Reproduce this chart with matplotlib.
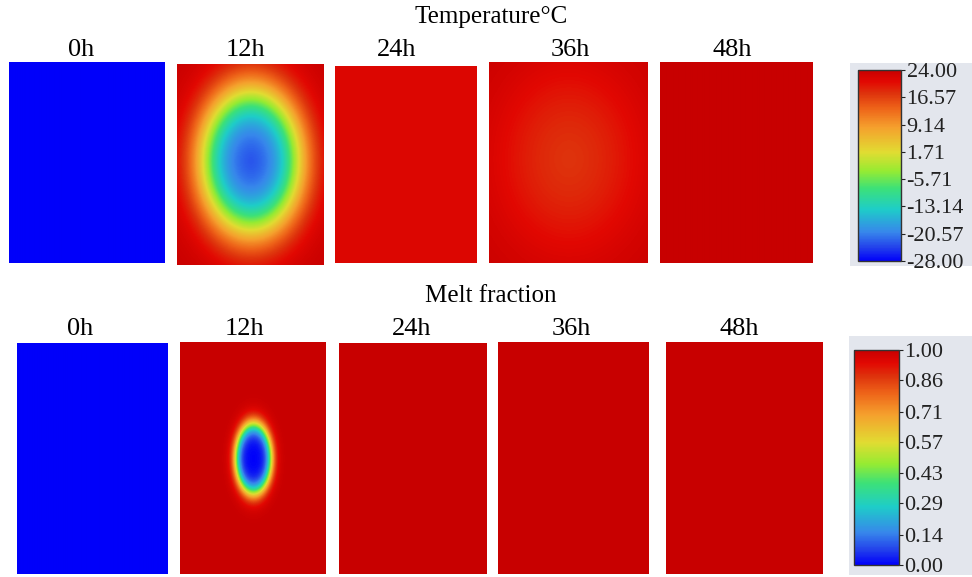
import numpy as np
import matplotlib
matplotlib.use('Agg')
import matplotlib.pyplot as plt
from matplotlib.colors import LinearSegmentedColormap
from matplotlib.patches import Rectangle

W, H = 972, 577

# panel labels and field parameters
times = ['0h', '12h', '24h', '36h', '48h']

# temperature, degC: value at the core and far from the core
temp_core = [-28.0, -24.0, 21.5, 17.0, 23.8]
temp_edge = [-28.0, 24.0, 21.5, 24.0, 23.8]
temp_rx = [1.0, 46.0, 1.0, 60.0, 1.0]       # core half-size (px, horizontal)
temp_aspect = [1.0, 1.45, 1.0, 1.3, 1.0]
temp_soft = [1.0, 0.25, 1.0, 0.4, 1.0]
temp_ticks = [-28.00, -20.57, -13.14, -5.71, 1.71, 9.14, 16.57, 24.00]

# melt fraction
melt_core = [0.0, 0.0, 1.0, 1.0, 1.0]
melt_edge = [0.0, 1.0, 1.0, 1.0, 1.0]
melt_rx = [1.0, 17.5, 1.0, 1.0, 1.0]
melt_aspect = [1.0, 1.95, 1.0, 1.0, 1.0]
melt_soft = [1.0, 0.16, 1.0, 1.0, 1.0]
melt_ticks = [0.00, 0.14, 0.29, 0.43, 0.57, 0.71, 0.86, 1.00]

# panel boxes in pixels (x0, y0, x1, y1)
top_boxes = [(9, 62, 164, 263), (177, 64, 323, 265), (335, 66, 477, 263),
             (489, 62, 647, 263), (660, 62, 812, 263)]
bot_boxes = [(17, 343, 167, 574), (180, 342, 326, 574), (339, 343, 487, 574),
             (498, 342, 649, 574), (666, 342, 823, 574)]
top_label_x = [81, 245, 397, 570, 732]
bot_label_x = [80, 244, 412, 571, 739]

stops = [(0.00, (0, 0, 250)), (0.07, (35, 65, 235)), (0.15, (55, 135, 235)),
         (0.27, (30, 205, 200)), (0.38, (60, 225, 120)), (0.47, (150, 235, 50)),
         (0.57, (225, 220, 50)), (0.70, (245, 160, 45)), (0.80, (238, 100, 25)),
         (0.88, (222, 50, 12)), (0.94, (226, 8, 2)), (1.00, (200, 0, 0))]
cmap = LinearSegmentedColormap.from_list(
    'fluent', [(p, tuple(c / 255 for c in col)) for p, col in stops])

plt.rcParams['font.family'] = ['Liberation Serif', 'DejaVu Serif']


def px_rect(box):
    x0, y0, x1, y1 = box
    return [x0 / W, 1 - y1 / H, (x1 - x0) / W, (y1 - y0) / H]


def make_field(box, core, edge, rx, aspect, soft, cy_frac):
    x0, y0, x1, y1 = box
    nx, ny = x1 - x0, y1 - y0
    x = np.arange(nx) - nx / 2
    y = np.arange(ny) - ny * cy_frac
    X, Y = np.meshgrid(x, y)
    d = np.sqrt((X / rx) ** 2 + (Y / (rx * aspect)) ** 2)
    f = 1 / (1 + np.exp(-(d - 1) / soft))
    return core + (edge - core) * f


fig = plt.figure(figsize=(W / 100, H / 100), dpi=100)

# light grey backing behind the colorbars
for bg in [(850, 63, 972, 266), (849, 336, 972, 575)]:
    fig.patches.append(Rectangle((bg[0] / W, 1 - bg[3] / H), (bg[2] - bg[0]) / W,
                                 (bg[3] - bg[1]) / H, transform=fig.transFigure,
                                 facecolor='#e3e6ed', edgecolor='none', zorder=-5))

rows = [
    (top_boxes, temp_core, temp_edge, temp_rx, temp_aspect, temp_soft, -28, 24, 0.48),
    (bot_boxes, melt_core, melt_edge, melt_rx, melt_aspect, melt_soft, 0, 1, 0.50),
]
images = []
for boxes, core, edge, rx, asp, soft, vmin, vmax, cyf in rows:
    for i, box in enumerate(boxes):
        ax = fig.add_axes(px_rect(box))
        field = make_field(box, core[i], edge[i], rx[i], asp[i], soft[i], cyf)
        im = ax.imshow(field, cmap=cmap, vmin=vmin, vmax=vmax, aspect='auto',
                       interpolation='bilinear')
        ax.set_axis_off()
    images.append(im)

# titles and panel labels
fig.text(491 / W, 1 - 23 / H, 'Temperature°C', ha='center', va='baseline', fontsize=18)
fig.text(491 / W, 1 - 302 / H, 'Melt fraction', ha='center', va='baseline', fontsize=18)
for t, x in zip(times, top_label_x):
    fig.text(x / W, 1 - 56 / H, t, ha='center', va='baseline', fontsize=19)
for t, x in zip(times, bot_label_x):
    fig.text(x / W, 1 - 335 / H, t, ha='center', va='baseline', fontsize=19)

# colorbars
cbars = [((858, 70, 901, 261), temp_ticks), ((854, 350, 899, 565), melt_ticks)]
for im, (cb, ticks) in zip(images, cbars):
    cax = fig.add_axes(px_rect(cb))
    cbar = fig.colorbar(im, cax=cax, ticks=ticks)
    cbar.ax.set_yticklabels(['%.2f' % t for t in ticks])
    cbar.ax.tick_params(labelsize=16, length=3, width=0.8, pad=1, colors='#222222')
    cbar.outline.set_linewidth(1.0)
    cbar.outline.set_edgecolor('#333333')

fig.savefig('out.png', dpi=100)
